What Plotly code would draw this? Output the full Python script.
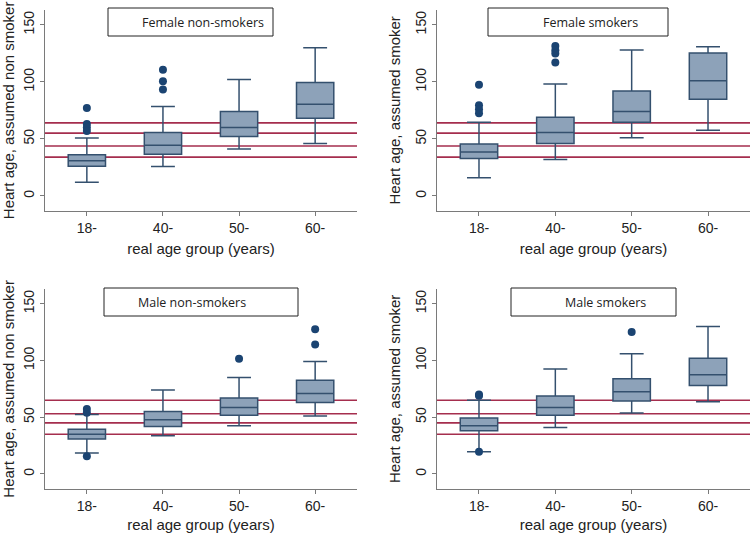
import plotly.graph_objects as go

GROUPS = ["18-", "40-", "50-", "60-"]

# female non-smokers
FNS_LO = [12, 25.8, 41, 46]
FNS_Q1 = [26, 36.6, 52, 68]
FNS_MED = [30.8, 44.5, 60, 80.4]
FNS_Q3 = [36, 55.6, 74, 99.4]
FNS_HI = [50.8, 78.4, 102, 130]
FNS_OUT_X = ["18-", "18-", "18-", "18-", "40-", "40-", "40-"]
FNS_OUT_Y = [77, 63, 60, 57, 110.5, 100.6, 93.3]

# female smokers
FS_LO = [16, 32, 51, 57.6]
FS_Q1 = [32.7, 46, 64.6, 84.8]
FS_MED = [38.5, 55.5, 74, 100.9]
FS_Q3 = [45.6, 69, 92, 125.4]
FS_HI = [64.5, 98, 128, 130.7]
FS_OUT_X = ["18-", "18-", "18-", "18-", "40-", "40-", "40-", "40-"]
FS_OUT_Y = [97.4, 79.5, 76, 72.5, 131.5, 127.8, 124.9, 117]

# male non-smokers
MNS_LO = [18.4, 33.6, 42.4, 51]
MNS_Q1 = [30.7, 41.8, 51.8, 63]
MNS_MED = [35, 47.7, 58.5, 71]
MNS_Q3 = [39.5, 55, 67, 82.5]
MNS_HI = [52.4, 74, 85, 99]
MNS_OUT_X = ["18-", "18-", "18-", "50-", "60-", "60-"]
MNS_OUT_Y = [57.3, 54, 15.5, 101.5, 127.5, 114]

# male smokers
MS_LO = [19.6, 41, 53.8, 63.7]
MS_Q1 = [38, 51.8, 64.3, 78]
MS_MED = [42.4, 58.5, 72.5, 87.4]
MS_Q3 = [49.4, 68.7, 84, 102]
MS_HI = [65, 92.4, 106, 130]
MS_OUT_X = ["18-", "18-", "18-", "50-"]
MS_OUT_Y = [70, 69, 19.6, 125]

# reference lines (mean real age of each group)
FEMALE_REF = [34, 43.8, 55, 64]
MALE_REF = [35, 45, 53, 65]

TITLES = ["Female non-smokers", "Female smokers", "Male non-smokers", "Male smokers"]
YTITLES = ["Heart age, assumed non smoker", "Heart age, assumed smoker",
           "Heart age, assumed non smoker", "Heart age, assumed smoker"]

W, H = 750, 533
FILL = "#8DA2B9"
EDGE = "#34506E"
DOT = "#1B4472"
REDLINE = "#A52E4E"
AXIS = "#7a7a7a"
FONT = "Liberation Sans, Arial, sans-serif"

# panel geometry in pixels: (left, right, top, bottom)
PANELS = [(45, 357, 10, 210.7), (437, 750, 10, 210.7),
          (45, 357, 289, 488.7), (437, 750, 289, 488.7)]
# title boxes in pixels: (x0, x1, y0, y1, text_center)
TBOX = [(108, 273, 8, 36, 203), (488, 668, 8, 36, 590),
        (104, 298, 288, 316, 192), (511, 676, 288, 316, 605)]

data = [
    (FNS_LO, FNS_Q1, FNS_MED, FNS_Q3, FNS_HI, FNS_OUT_X, FNS_OUT_Y, FEMALE_REF),
    (FS_LO, FS_Q1, FS_MED, FS_Q3, FS_HI, FS_OUT_X, FS_OUT_Y, FEMALE_REF),
    (MNS_LO, MNS_Q1, MNS_MED, MNS_Q3, MNS_HI, MNS_OUT_X, MNS_OUT_Y, MALE_REF),
    (MS_LO, MS_Q1, MS_MED, MS_Q3, MS_HI, MS_OUT_X, MS_OUT_Y, MALE_REF),
]

fig = go.Figure()
layout = {}
shapes, annots = [], []
for i, (lo, q1, med, q3, hi, ox, oy, ref) in enumerate(data):
    n = "" if i == 0 else str(i + 1)
    xa, ya = "x" + n, "y" + n
    l, r, t, b = PANELS[i]
    layout["xaxis" + n] = dict(
        domain=[l / W, r / W], anchor=ya, type="category", range=[-0.55, 3.55],
        automargin=False,
        showline=True, linecolor=AXIS, linewidth=1, ticks="outside", ticklen=4,
        tickcolor=AXIS, showgrid=False, zeroline=False,
        tickfont=dict(family=FONT, size=14, color="#222"),
        title=dict(text="real age group (years)", standoff=8,
                   font=dict(family=FONT, size=15, color="#222")))
    layout["yaxis" + n] = dict(
        domain=[1 - b / H, 1 - t / H], anchor=xa, range=[-13, 163],
        automargin=False,
        tickvals=[0, 50, 100, 150], tickangle=-90,
        showline=True, linecolor=AXIS, linewidth=1, ticks="outside", ticklen=4,
        tickcolor=AXIS, showgrid=False, zeroline=False,
        tickfont=dict(family=FONT, size=14, color="#222"),
        title=dict(text=YTITLES[i], standoff=9,
                   font=dict(family=FONT, size=15, color="#222")))
    # reference lines drawn under boxes
    for v in ref:
        shapes.append(dict(type="line", xref=xa + " domain", yref=ya, x0=0, x1=1,
                           y0=v, y1=v, line=dict(color=REDLINE, width=1.6), layer="below"))
    fig.add_trace(go.Box(
        x=GROUPS, q1=q1, median=med, q3=q3, lowerfence=lo, upperfence=hi,
        boxpoints=False, width=0.49, whiskerwidth=0.64, fillcolor=FILL,
        line=dict(color=EDGE, width=1.5), xaxis=xa, yaxis=ya, showlegend=False,
        hoverinfo="skip"))
    fig.add_trace(go.Scatter(
        x=ox, y=oy, mode="markers", xaxis=xa, yaxis=ya, showlegend=False,
        marker=dict(color=DOT, size=8, line=dict(width=0)), hoverinfo="skip"))
    x0, x1, y0, y1, tc = TBOX[i]
    shapes.append(dict(type="rect", xref="paper", yref="paper",
                       x0=x0 / W, x1=x1 / W, y0=1 - y1 / H, y1=1 - y0 / H,
                       line=dict(color="#222", width=1), fillcolor="white", layer="above"))
    annots.append(dict(text=TITLES[i], xref="paper", yref="paper", x=tc / W,
                       y=1 - (y0 + y1) / 2 / H, showarrow=False, xanchor="center",
                       yanchor="middle", font=dict(family="Open Sans, sans-serif", size=12.5,
                                                   color="#222")))

fig.update_layout(**layout)
fig.update_layout(width=W, height=H, margin=dict(l=0, r=0, t=0, b=0),
                  paper_bgcolor="white", plot_bgcolor="white",
                  shapes=shapes, annotations=annots)
# the page's default body margin would shift the figure by 8px
fig.write_html("out.html", config={"displayModeBar": False},
               post_script="document.body.style.margin='0';")
